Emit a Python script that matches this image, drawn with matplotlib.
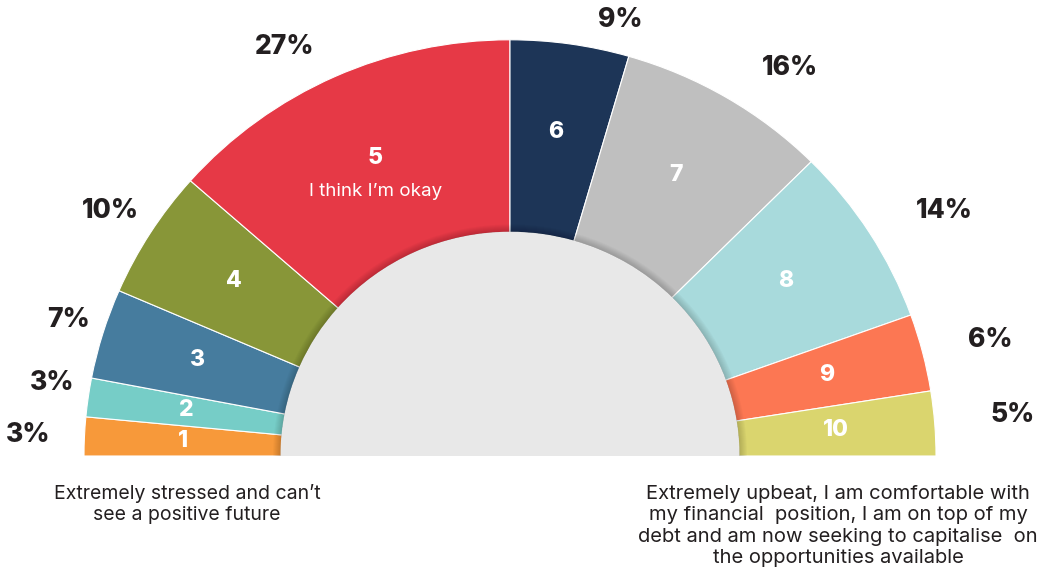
import numpy as np
import matplotlib
matplotlib.use("Agg")
import matplotlib.pyplot as plt
from matplotlib.patches import Wedge
from matplotlib.transforms import Affine2D

# wellbeing scale 1..10, share of respondents (%)
scores = ["1", "2", "3", "4", "5", "6", "7", "8", "9", "10"]
shares = [3, 3, 7, 10, 27, 9, 16, 14, 6, 5]
colors = ["#F7993A", "#76CDC7", "#467C9E", "#889638", "#E63946",
          "#1D3557", "#BFBFBF", "#A8DADC", "#FC7753", "#DAD56E"]
mid_label = {"5": "I think I\u2019m okay"}
low_text = "Extremely stressed and can\u2019t\nsee a positive future"
high_text = ("Extremely upbeat, I am comfortable with\n"
             "my financial  position, I am on top of my\n"
             "debt and am now seeking to capitalise  on\n"
             "the opportunities available")

# layout (pixels, y up)
W, H = 1038, 570
cx, cy = 510, 570 - 456
r_out, r_in = 426, 229
sy = 0.977          # the half ring is a touch flatter than a circle
# where the % labels sit relative to each wedge's middle
pct_radius = [482, 464, 462, 469, 467, 450, 478, 499, 494, 504]
pct_nudge = [0.2, -1.0, 0.0, 0.9, 4.5, -6.1, -5.2, -3.0, -0.8, 0.2]

font = ["Inter", "DejaVu Sans"]
dark = "#231F20"

fig = plt.figure(figsize=(W / 100, H / 100), dpi=100)
ax = fig.add_axes([0, 0, 1, 1])
ax.set_xlim(0, W)
ax.set_ylim(0, H)
ax.set_aspect("equal")
ax.axis("off")

flatten = Affine2D().translate(0, -cy).scale(1, sy).translate(0, cy) + ax.transData


def polar(r, deg):
    a = np.radians(deg)
    return cx + r * np.cos(a), cy + r * np.sin(a)


total = float(sum(shares))
start = 180.0
for i, (s, v, c) in enumerate(zip(scores, shares, colors)):
    span = 180.0 * v / total
    end = start - span
    ax.add_patch(Wedge((cx, cy), r_out, end, start, width=r_out - r_in,
                       facecolor=c, edgecolor="white", linewidth=0.8,
                       transform=flatten))
    mid = (start + end) / 2
    tx, ty = polar(327, mid)
    ax.text(tx, ty, s, ha="center", va="center", color="white",
            fontsize=16.5, fontweight="heavy", family=font)
    if s in mid_label:
        ax.text(tx, ty - 34, mid_label[s], ha="center", va="center",
                color="white", fontsize=13.5, family=font)
    px, py = polar(pct_radius[i], mid + pct_nudge[i])
    ax.text(px, py, f"{v}%", ha="center", va="center", color=dark,
            fontsize=19, fontweight="heavy", family=font)
    start = end

# soft shadow where the ring meets the inner disc
for k in range(8):
    ax.add_patch(Wedge((cx, cy), r_in + 8 - k, 0, 180, width=8 - k,
                       facecolor="black", edgecolor="none", alpha=0.025,
                       transform=flatten))
ax.add_patch(Wedge((cx, cy), r_in, 0, 180, facecolor="#E8E8E8",
                   edgecolor="none", transform=flatten))

ax.text(187, 570 - 504, low_text, ha="center", va="center", color=dark,
        fontsize=14, family=font, linespacing=1.25)
ax.text(838, 570 - 526, high_text, ha="center", va="center", color=dark,
        fontsize=14.5, family=font, linespacing=1.22)

fig.savefig("out.png", dpi=100, facecolor="white")
